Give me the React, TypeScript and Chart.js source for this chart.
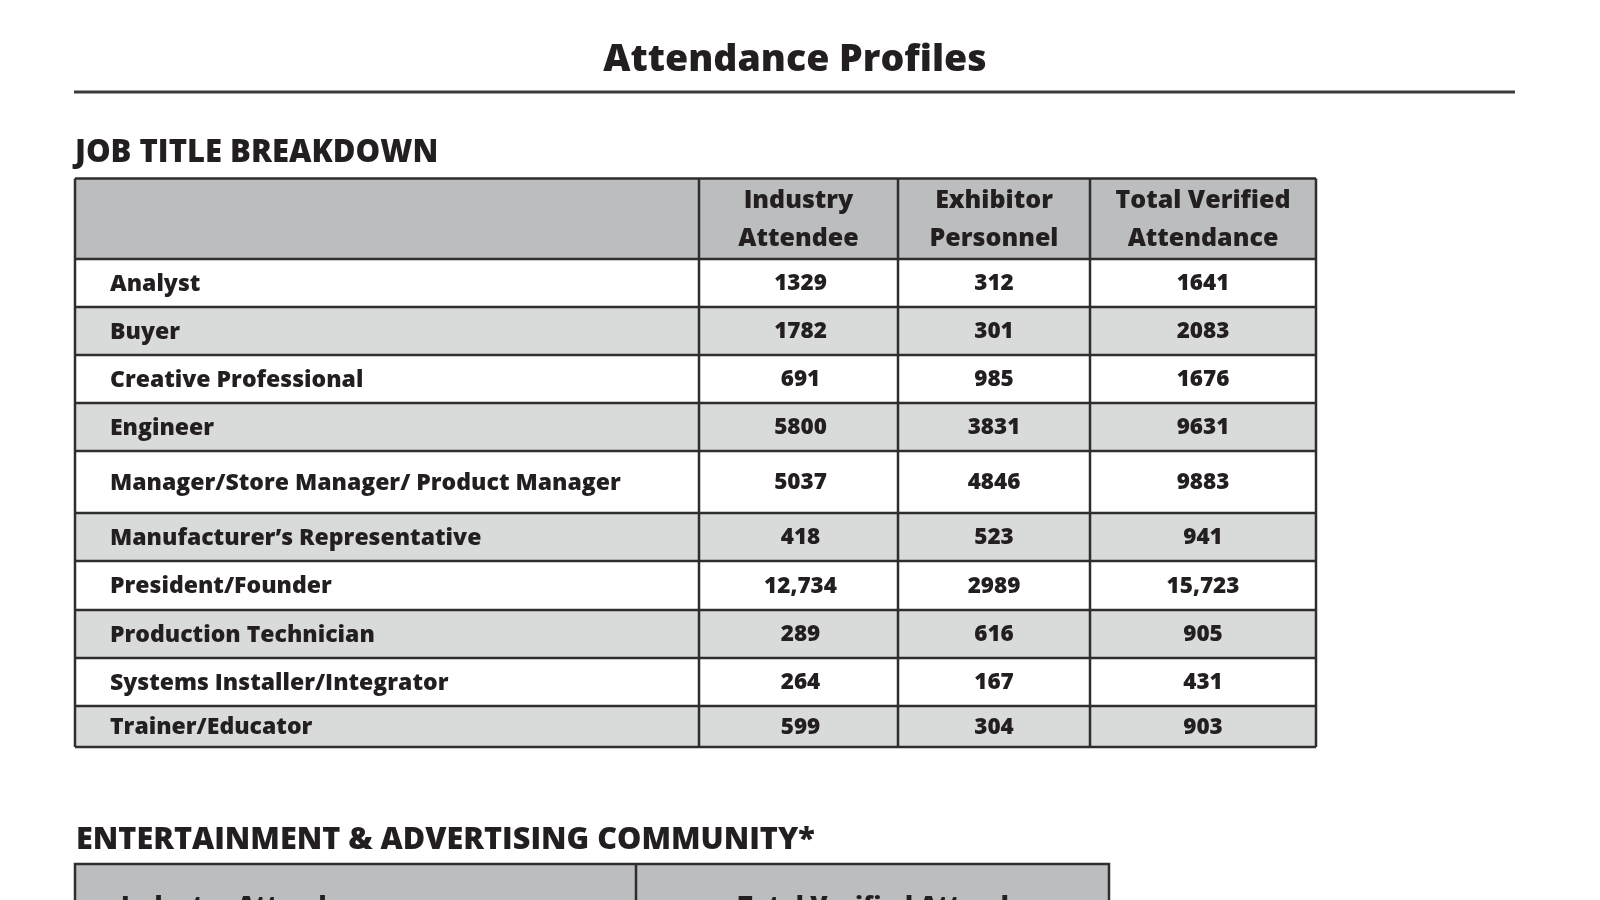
import React, { useEffect, useRef } from "react";
import { Chart, registerables } from "chart.js";

Chart.register(...registerables);

// ---------- data ----------
const pageTitle = "Attendance Profiles";
const sectionTitle = "JOB TITLE BREAKDOWN";
const sectionTitle2 = "ENTERTAINMENT & ADVERTISING COMMUNITY*";
const columnHeaders = [[""], ["Industry", "Attendee"], ["Exhibitor", "Personnel"], ["Total Verified", "Attendance"]];
const jobTitles = [
  "Analyst",
  "Buyer",
  "Creative Professional",
  "Engineer",
  "Manager/Store Manager/ Product Manager",
  "Manufacturer’s Representative",
  "President/Founder",
  "Production Technician",
  "Systems Installer/Integrator",
  "Trainer/Educator",
];
const industryAttendee = [1329, 1782, 691, 5800, 5037, 418, 12734, 289, 264, 599];
const exhibitorPersonnel = [312, 301, 985, 3831, 4846, 523, 2989, 616, 167, 304];
const totalVerified = [1641, 2083, 1676, 9631, 9883, 941, 15723, 905, 431, 903];
const communityHeaders = ["Industry Attendee", "Total Verified Attendance"];

// ---------- layout (page units mapped through the chart's scales) ----------
const PAGE_W = 1600;
const PAGE_H = 900;
const colEdges = [75, 699, 898, 1090, 1316];
const rowEdges = [178.5, 259, 307, 355, 403, 451, 513, 561, 610, 658, 706, 747];
const table2Cols = [75, 636, 1109];
const table2Top = 864;
const FONT = "'Open Sans', Lato, sans-serif";
const W = "800";
const INK = "#231f20";
const GRID = "#2e2e2e";
const HEADER_BG = "#bcbdbf";
const ALT_BG = "#d9dada";

function fmt(v: number): string {
  return v >= 10000 ? v.toLocaleString("en-US") : String(v);
}

const tablePlugin = {
  id: "tableDraw",
  afterDraw(chart: any) {
    const ctx: CanvasRenderingContext2D = chart.ctx;
    const xs = chart.scales.x;
    const ys = chart.scales.y;
    const X = (v: number) => xs.getPixelForValue(v);
    const Y = (v: number) => ys.getPixelForValue(v);
    ctx.save();

    // title
    ctx.fillStyle = INK;
    ctx.textBaseline = "alphabetic";
    ctx.textAlign = "center";
    ctx.font = `${W} 37.5px ${FONT}`;
    ctx.fillText(pageTitle, X(795), Y(70.5));

    // rule
    ctx.strokeStyle = "#3a3a3a";
    ctx.lineWidth = 3;
    ctx.beginPath();
    ctx.moveTo(X(74), Y(92));
    ctx.lineTo(X(1515), Y(92));
    ctx.stroke();

    // section title
    ctx.textAlign = "left";
    ctx.font = `${W} 31px ${FONT}`;
    ctx.fillText(sectionTitle, X(75), Y(162));

    // backgrounds
    const rows = jobTitles.length;
    ctx.fillStyle = HEADER_BG;
    ctx.fillRect(X(colEdges[0]), Y(rowEdges[0]), X(colEdges[4]) - X(colEdges[0]), Y(rowEdges[1]) - Y(rowEdges[0]));
    for (let r = 0; r < rows; r++) {
      ctx.fillStyle = r % 2 === 1 ? ALT_BG : "#ffffff";
      ctx.fillRect(X(colEdges[0]), Y(rowEdges[r + 1]), X(colEdges[4]) - X(colEdges[0]), Y(rowEdges[r + 2]) - Y(rowEdges[r + 1]));
    }

    // grid
    ctx.strokeStyle = GRID;
    ctx.lineWidth = 2.5;
    for (const ry of rowEdges) {
      ctx.beginPath();
      ctx.moveTo(X(colEdges[0]), Y(ry));
      ctx.lineTo(X(colEdges[4]), Y(ry));
      ctx.stroke();
    }
    for (const cx of colEdges) {
      ctx.beginPath();
      ctx.moveTo(X(cx), Y(rowEdges[0]));
      ctx.lineTo(X(cx), Y(rowEdges[rowEdges.length - 1]));
      ctx.stroke();
    }

    // header text
    ctx.fillStyle = INK;
    ctx.textAlign = "center";
    ctx.textBaseline = "middle";
    ctx.font = `${W} 25px ${FONT}`;
    const hMid = (rowEdges[0] + rowEdges[1]) / 2;
    for (let c = 1; c < 4; c++) {
      const cxm = (colEdges[c] + colEdges[c + 1]) / 2;
      const lines = columnHeaders[c];
      lines.forEach((ln, i) => {
        ctx.fillText(ln, X(cxm), Y(hMid + 1 + (i - (lines.length - 1) / 2) * 38));
      });
    }

    // body
    const cols = [industryAttendee, exhibitorPersonnel, totalVerified];
    for (let r = 0; r < rows; r++) {
      const my = (rowEdges[r + 1] + rowEdges[r + 2]) / 2 + 1;
      ctx.textAlign = "left";
      ctx.font = `${W} 23px ${FONT}`;
      ctx.fillText(jobTitles[r], X(110), Y(my));
      ctx.textAlign = "center";
      ctx.font = `${W} 22.5px ${FONT}`;
      cols.forEach((arr, c) => {
        const cxm = (colEdges[c + 1] + colEdges[c + 2]) / 2 + (c === 0 ? 2 : 0);
        ctx.fillText(fmt(arr[r]), X(cxm), Y(my));
      });
    }

    // second section
    ctx.textAlign = "left";
    ctx.textBaseline = "alphabetic";
    ctx.font = `${W} 30.6px ${FONT}`;
    ctx.fillText(sectionTitle2, X(76), Y(849));

    ctx.fillStyle = HEADER_BG;
    ctx.fillRect(X(table2Cols[0]), Y(table2Top), X(table2Cols[2]) - X(table2Cols[0]), Y(PAGE_H + 20) - Y(table2Top));
    ctx.strokeStyle = GRID;
    ctx.lineWidth = 2.5;
    ctx.beginPath();
    ctx.moveTo(X(table2Cols[0]), Y(PAGE_H + 20));
    ctx.lineTo(X(table2Cols[0]), Y(table2Top));
    ctx.lineTo(X(table2Cols[2]), Y(table2Top));
    ctx.lineTo(X(table2Cols[2]), Y(PAGE_H + 20));
    ctx.moveTo(X(table2Cols[1]), Y(table2Top));
    ctx.lineTo(X(table2Cols[1]), Y(PAGE_H + 20));
    ctx.stroke();

    ctx.fillStyle = INK;
    ctx.font = `${W} 25px ${FONT}`;
    ctx.textAlign = "left";
    ctx.fillText(communityHeaders[0], X(121), Y(914));
    ctx.fillText(communityHeaders[1], X(738), Y(914));

    ctx.restore();
  },
};

export default function App() {
  const ref = useRef<HTMLCanvasElement | null>(null);
  useEffect(() => {
    if (!ref.current) return;
    const chart = new Chart(ref.current, {
      type: "scatter",
      data: { datasets: [{ data: [], pointRadius: 0 }] },
      options: {
        animation: false,
        responsive: false,
        devicePixelRatio: 1,
        layout: { padding: 0 },
        plugins: { legend: { display: false }, tooltip: { enabled: false }, title: { display: false } },
        scales: {
          x: { type: "linear", min: 0, max: PAGE_W, display: false },
          y: { type: "linear", min: 0, max: PAGE_H, reverse: true, display: false },
        },
      },
      plugins: [tablePlugin],
    });
    return () => chart.destroy();
  }, []);
  return (
    <div style={{ position: "fixed", left: 0, top: 0, width: PAGE_W, height: PAGE_H, background: "#fff" }}>
      <canvas ref={ref} width={PAGE_W} height={PAGE_H} style={{ display: "block" }} />
    </div>
  );
}
